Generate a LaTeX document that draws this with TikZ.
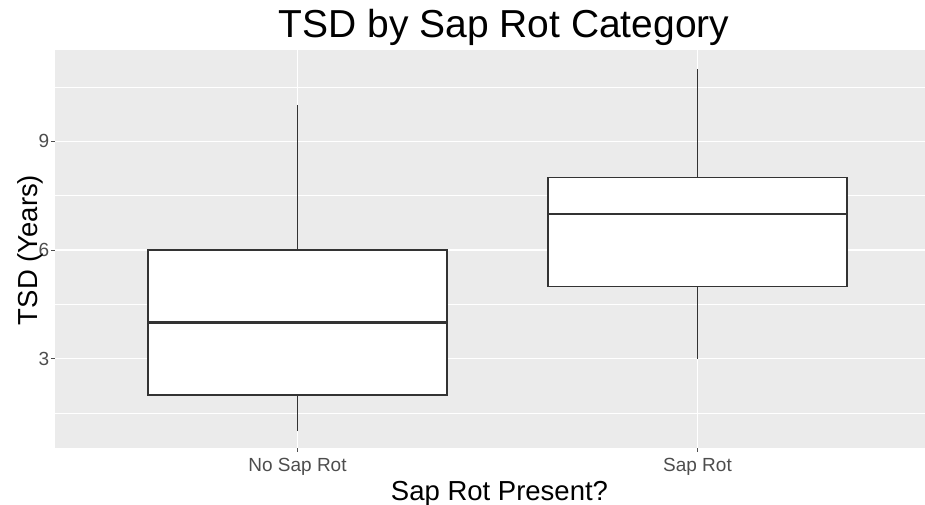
\documentclass[tikz,border=0pt]{standalone}
\usepackage{fontspec}
\setmainfont{Liberation Sans}
\usepackage{xcolor}
\usepackage{tikz}
\usetikzlibrary{calc}
\definecolor{panelgrey}{HTML}{EBEBEB}
\definecolor{boxcolor}{HTML}{333333}
\definecolor{tickgrey}{HTML}{4D4D4D}
% data value -> y pixel
\newcommand{\ty}[1]{467.2-36.2*#1}

\begin{document}
\begin{tikzpicture}[x=1pt,y=-1pt,
    majorgrid/.style={white,line width=1.6pt},
    minorgrid/.style={white,line width=0.8pt},
    boxline/.style={boxcolor,line width=1.4pt},
    medline/.style={boxcolor,line width=2.6pt},
    ticklabel/.style={tickgrey,inner sep=0pt,font=\fontsize{19}{22}\selectfont}]
\useasboundingbox (0,0) rectangle (925,505);
    \fill [panelgrey] (55,50) rectangle (925,448);
%% grid lines
\foreach \v in {1.5,4.5,7.5,10.5}
    \draw[minorgrid] (55,{\ty{\v}}) -- (925,{\ty{\v}});
\foreach \v in {3,6,9}
    \draw[majorgrid] (55,{\ty{\v}}) -- (925,{\ty{\v}});
\foreach \x in {297.5,697.5}
    \draw[majorgrid] (\x,50) -- (\x,448);
%% No Sap Rot
   \draw[boxline] (297.5,{\ty{1}}) -- (297.5,{\ty{2}});
   \draw[boxline] (297.5,{\ty{6}}) -- (297.5,{\ty{10}});
   \draw[boxline,fill=white] (148,{\ty{2}}) rectangle (447,{\ty{6}});
   \draw[medline] (148,{\ty{4}}) -- (447,{\ty{4}});
%% Sap Rot
   \draw[boxline] (697.5,{\ty{3}}) -- (697.5,{\ty{5}});
   \draw[boxline] (697.5,{\ty{8}}) -- (697.5,{\ty{11}});
   \draw[boxline,fill=white] (548,{\ty{5}}) rectangle (847,{\ty{8}});
   \draw[medline] (548,{\ty{7}}) -- (847,{\ty{7}});
%% axis ticks and labels
\foreach \v in {3,6,9} {
    \draw[tickgrey,line width=0.8pt] (51,{\ty{\v}}) -- (55,{\ty{\v}});
    \node[ticklabel,anchor=east] (ytick\v) at (49.5,{\ty{\v}}) {\v};
}
\foreach \x/\name/\xtext in {297.5/nosap/No Sap Rot, 697.5/sap/Sap Rot} {
    \draw[tickgrey,line width=0.8pt] (\x,448) -- (\x,452);
    \node[ticklabel,anchor=base] (xtick\name) at (\x,471.5) {\xtext};
}
\node[anchor=base,font=\fontsize{39}{46}\selectfont] (title) at (504,37.5) {TSD by Sap Rot Category};
\node[anchor=base,inner sep=0pt,font=\fontsize{27.5}{32}\selectfont] (xlab) at (499.5,500.5) {Sap Rot Present?};
\node[anchor=base,rotate=90,inner sep=0pt,font=\fontsize{27.5}{32}\selectfont] (ylab) at (37.5,250) {TSD (Years)};
\end{tikzpicture}
\end{document}
